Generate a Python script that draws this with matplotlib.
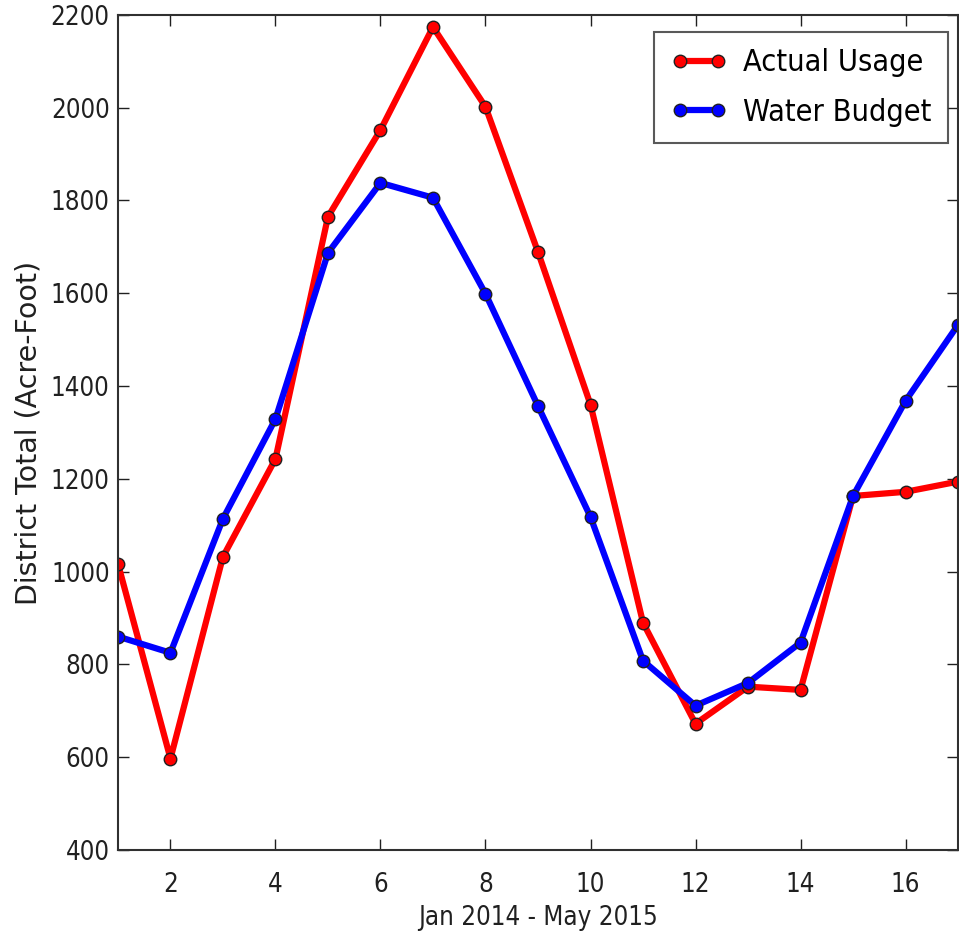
import numpy as np
import matplotlib
matplotlib.use("Agg")
import matplotlib.pyplot as plt

# monthly totals, Jan 2014 - May 2015 (acre-foot)
months = list(range(1, 18))
actual_usage = [1017, 597, 1032, 1243, 1765, 1952, 2174, 2002, 1689, 1360,
                890, 672, 752, 745, 1163, 1172, 1194]
water_budget = [860, 825, 1114, 1329, 1687, 1838, 1806, 1599, 1357, 1118,
                808, 711, 760, 847, 1163, 1368, 1532]

x_ticks = [2, 4, 6, 8, 10, 12, 14, 16]
y_ticks = list(range(400, 2201, 200))

plt.rcParams['font.family'] = ['DejaVu Sans']
plt.rcParams['font.stretch'] = 'condensed'

fig = plt.figure(figsize=(9.59, 9.34), dpi=100, facecolor='white')
ax = fig.add_axes([0.123, 0.090, 0.876, 0.894])

ax.plot(months, actual_usage, color='red', lw=4.5, marker='o', ms=9,
        mec='#202020', mew=1.0, label='Actual Usage')
ax.plot(months, water_budget, color='blue', lw=4.5, marker='o', ms=9,
        mec='#202020', mew=1.0, label='Water Budget')

ax.set_xlim(1, 17)
ax.set_ylim(400, 2200)
ax.set_xticks(x_ticks)
ax.set_yticks(y_ticks)
ax.tick_params(direction='in', length=8, width=1, top=True, right=True,
               labelsize=18.5, pad=6, colors='#202020')
ax.tick_params(axis='x', pad=16)
for s in ax.spines.values():
    s.set_linewidth(1.5)
    s.set_color('#303030')

ax.set_xlabel('Jan 2014 - May 2015', fontsize=18.5, color='#202020', labelpad=5)
ax.set_ylabel('District Total (Acre-Foot)', fontsize=20.5, color='#202020',
              labelpad=6, fontstretch='normal')

leg = ax.legend(loc='upper right', bbox_to_anchor=(0.988, 0.980),
                borderaxespad=0, fontsize=22, numpoints=2, handlelength=1.85,
                fancybox=False, labelspacing=0.66, handletextpad=0.5,
                borderpad=0.55)
leg.get_frame().set_edgecolor('#303030')
leg.get_frame().set_linewidth(1.5)

fig.savefig('out.png', dpi=100, facecolor='white')
